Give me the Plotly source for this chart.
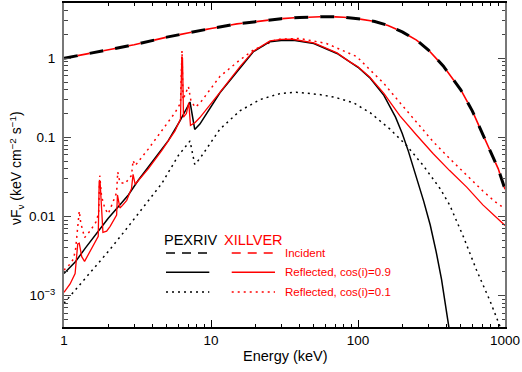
import plotly.graph_objects as go

# ---------------- data ----------------
E_inc = [1, 1.5, 2, 3, 5, 7, 10, 15, 20, 30, 40, 50, 60, 70, 80, 100, 130, 160,
         200, 250, 300, 380, 450, 500, 600, 700, 800, 900, 950, 1000]
F_inc = [1.0, 1.15, 1.27, 1.48, 1.85, 2.1, 2.38, 2.72, 2.92, 3.17, 3.28, 3.34, 3.36,
         3.34, 3.3, 3.16, 2.92, 2.6, 2.16, 1.7, 1.28, 0.8, 0.52, 0.40, 0.215, 0.11,
         0.065, 0.040, 0.030, 0.022]

E_pex09 = [1.0, 1.2, 1.4, 1.67, 2.0, 2.34, 2.74, 3.2, 4.05, 5.12, 6.15, 7.2, 7.75, 8.4,
           11.5, 15.7, 19.4, 25.2, 30, 36.3, 50, 72, 88, 100, 120, 150, 180, 200, 220,
           250, 280, 310, 340, 370, 400, 425]
F_pex09 = [0.0019, 0.0027, 0.0040, 0.0061, 0.0095, 0.0133, 0.0187, 0.0287, 0.051, 0.091,
           0.162, 0.28, 0.126, 0.147, 0.366, 0.75, 1.21, 1.62, 1.68, 1.69, 1.54, 1.15,
           0.9, 0.77, 0.57, 0.34, 0.18, 0.112, 0.067, 0.031, 0.0155, 0.0078, 0.0036,
           0.0016, 0.00068, 0.00030]

E_pex01 = [1.0, 1.5, 2.0, 2.53, 3.55, 4.62, 6.0, 7.2, 7.75, 8.4, 11.5, 15.7, 21.5, 29.5,
           38, 55, 70, 93, 121, 165, 214, 278, 361, 420, 520, 640, 790, 900, 960]
F_pex01 = [0.0008, 0.0019, 0.0036, 0.0062, 0.014, 0.026, 0.059, 0.09, 0.0455, 0.054,
           0.127, 0.216, 0.30, 0.358, 0.372, 0.348, 0.32, 0.274, 0.205, 0.127, 0.079,
           0.044, 0.0226, 0.014, 0.0056, 0.0021, 0.00086, 0.00048, 0.00034]

E_xil09 = [1.0, 1.1, 1.19, 1.24, 1.27, 1.32, 1.38, 1.55, 1.71, 1.735, 1.76, 1.84, 1.95,
           2.06, 2.28, 2.31, 2.4, 2.5, 2.67, 2.88, 2.95, 3.05, 3.74, 4.62, 5.69, 6.2,
           6.33, 6.4, 6.5, 6.8, 7.06, 7.25, 7.8, 8.4, 11.5, 15.7, 19.4, 25.2, 30, 36,
           50, 72, 88, 100, 120, 150, 170, 193, 250, 325, 420, 549, 707, 850, 1000]
F_xil09 = [0.0011, 0.0014, 0.0019, 0.0045, 0.0046, 0.0031, 0.0027, 0.0040, 0.0056, 0.0274,
           0.0274, 0.0063, 0.0065, 0.0075, 0.0104, 0.0187, 0.0128, 0.0138, 0.016, 0.0226,
           0.034, 0.0255, 0.040, 0.068, 0.121, 0.17, 1.05, 1.0, 0.18, 0.2, 0.275, 0.142,
           0.154, 0.178, 0.37, 0.78, 1.23, 1.66, 1.73, 1.74, 1.57, 1.17, 0.9, 0.78, 0.58,
           0.36, 0.26, 0.187, 0.107, 0.062, 0.038, 0.0235, 0.014, 0.0102, 0.0077]

E_xil01 = [1.0, 1.1, 1.16, 1.2, 1.27, 1.3, 1.38, 1.5, 1.65, 1.72, 1.75, 1.8, 1.9, 2.0,
           2.16, 2.28, 2.32, 2.4, 2.6, 2.88, 2.95, 3.05, 3.74, 4.62, 5.69, 6.2, 6.35,
           6.45, 6.7, 7.02, 7.3, 7.8, 8.4, 11.5, 15.7, 19.4, 28, 40, 61, 98, 121, 149,
           193, 250, 325, 420, 549, 707, 850, 1000]
F_xil01 = [0.0021, 0.0025, 0.0029, 0.0039, 0.0117, 0.0083, 0.0054, 0.0065, 0.0085, 0.011,
           0.033, 0.018, 0.0125, 0.0108, 0.0154, 0.02, 0.0365, 0.027, 0.026, 0.033,
           0.051, 0.044, 0.071, 0.121, 0.205, 0.27, 1.25, 0.3, 0.35, 0.44, 0.29, 0.24,
           0.27, 0.59, 0.95, 1.27, 1.73, 1.78, 1.54, 1.05, 0.71, 0.487, 0.274, 0.154,
           0.088, 0.054, 0.033, 0.021, 0.0155, 0.0125]

x_ticks = [1, 10, 100, 1000]
x_ticktext = ["1", "10", "100", "1000"]
y_ticks = [1e-3, 1e-2, 0.1, 1]
y_ticktext = ["10<sup>\u22123</sup>", "0.01", "0.1", "1"]

legend_models = ["PEXRIV", "XILLVER"]
legend_labels = ["Incident", "Reflected, cos(i)=0.9", "Reflected, cos(i)=0.1"]

# ---------------- styling ----------------
FONT = "Liberation Sans, Arial, sans-serif"
BLACK = "#000000"
RED = "#ff0000"
DOT = "2px,4px"

fig = go.Figure()

# incident: black thick dashes, red thin dashes in the gaps
fig.add_trace(go.Scatter(x=E_inc, y=F_inc, mode="lines",
                         line=dict(color=BLACK, width=3, dash="14px,12px")))
fig.add_trace(go.Scatter(x=E_inc, y=F_inc, mode="lines",
                         line=dict(color=RED, width=1.6, dash="0px,14px,12px,0px")))

fig.add_trace(go.Scatter(x=E_pex01, y=F_pex01, mode="lines",
                         line=dict(color=BLACK, width=1.5, dash=DOT)))
fig.add_trace(go.Scatter(x=E_xil01, y=F_xil01, mode="lines",
                         line=dict(color=RED, width=1.5, dash=DOT)))
fig.add_trace(go.Scatter(x=E_pex09, y=F_pex09, mode="lines",
                         line=dict(color=BLACK, width=1.5)))
fig.add_trace(go.Scatter(x=E_xil09, y=F_xil09, mode="lines",
                         line=dict(color=RED, width=1.3)))

def decade_minors(lo_exp, hi_exp):
    return [m * 10 ** e for e in range(lo_exp, hi_exp) for m in range(2, 10)]

fig.update_layout(
    width=522, height=372,
    margin=dict(l=64, r=17, t=1, b=45),
    paper_bgcolor="white", plot_bgcolor="white",
    showlegend=False,
    font=dict(family=FONT, color="black", size=13.5),
    xaxis=dict(type="log", range=[0, 3], tickmode="array", tickvals=x_ticks,
               ticktext=x_ticktext, ticks="inside", ticklen=7, tickwidth=1,
               tickcolor="black", showgrid=False, zeroline=False,
               showline=True, linecolor="black", linewidth=1.5, mirror="allticks",
               tickfont=dict(size=13.5, family=FONT),
               minor=dict(tickmode="array", tickvals=decade_minors(0, 3),
                          ticks="inside", ticklen=3.5, tickcolor="black", showgrid=False)),
    yaxis=dict(type="log", range=[-3.398, 0.699], tickmode="array", tickvals=y_ticks,
               ticktext=y_ticktext, ticks="inside", ticklen=7, tickwidth=1,
               tickcolor="#444", showgrid=False, zeroline=False,
               showline=True, linecolor="#777", linewidth=2, mirror="allticks",
               tickfont=dict(size=13.5, family=FONT), ticklabelstandoff=4,
               minor=dict(tickmode="array", tickvals=decade_minors(-4, 1),
                          ticks="inside", ticklen=3.5, tickcolor="#444", showgrid=False)),
)

annotations = [
    dict(text="Energy (keV)", x=0.502, y=-0.089, xref="paper", yref="paper",
         xanchor="center", yanchor="middle", showarrow=False,
         font=dict(size=14.5, family=FONT, color="black")),
    dict(text="\u03bdF<sub>\u03bd</sub> (keV cm<sup>\u22122</sup> s<sup>\u22121</sup>)",
         x=-0.107, y=0.49, xref="paper", yref="paper", textangle=-90,
         xanchor="center", yanchor="middle", showarrow=False,
         font=dict(size=14, family=FONT, color="black")),
    dict(text=legend_models[0], x=0.2215, y=0.269, xref="paper", yref="paper",
         xanchor="left", yanchor="middle", showarrow=False,
         font=dict(size=14.5, family=FONT, color=BLACK)),
    dict(text=legend_models[1], x=0.3576, y=0.269, xref="paper", yref="paper",
         xanchor="left", yanchor="middle", showarrow=False,
         font=dict(size=14.5, family=FONT, color=RED)),
]
row_y = [0.2284, 0.1691, 0.108]
row_dash = ["9px,7px", "solid", DOT]
row_w = [1.5, 1.5, 1.5]
shapes = []
for lab, yy, dsh, w in zip(legend_labels, row_y, row_dash, row_w):
    annotations.append(dict(text=lab, x=0.4959, y=yy, xref="paper", yref="paper",
                            xanchor="left", yanchor="middle", showarrow=False,
                            font=dict(size=11.5, family=FONT, color=RED)))
    shapes.append(dict(type="line", xref="paper", yref="paper", x0=0.2313, x1=0.3295,
                       y0=yy, y1=yy, line=dict(color=BLACK, width=w, dash=dsh)))
    shapes.append(dict(type="line", xref="paper", yref="paper", x0=0.3803, x1=0.4785,
                       y0=yy, y1=yy, line=dict(color=RED, width=w * 0.9, dash=dsh)))

fig.update_layout(annotations=annotations, shapes=shapes)
fig.write_html("out.html")
